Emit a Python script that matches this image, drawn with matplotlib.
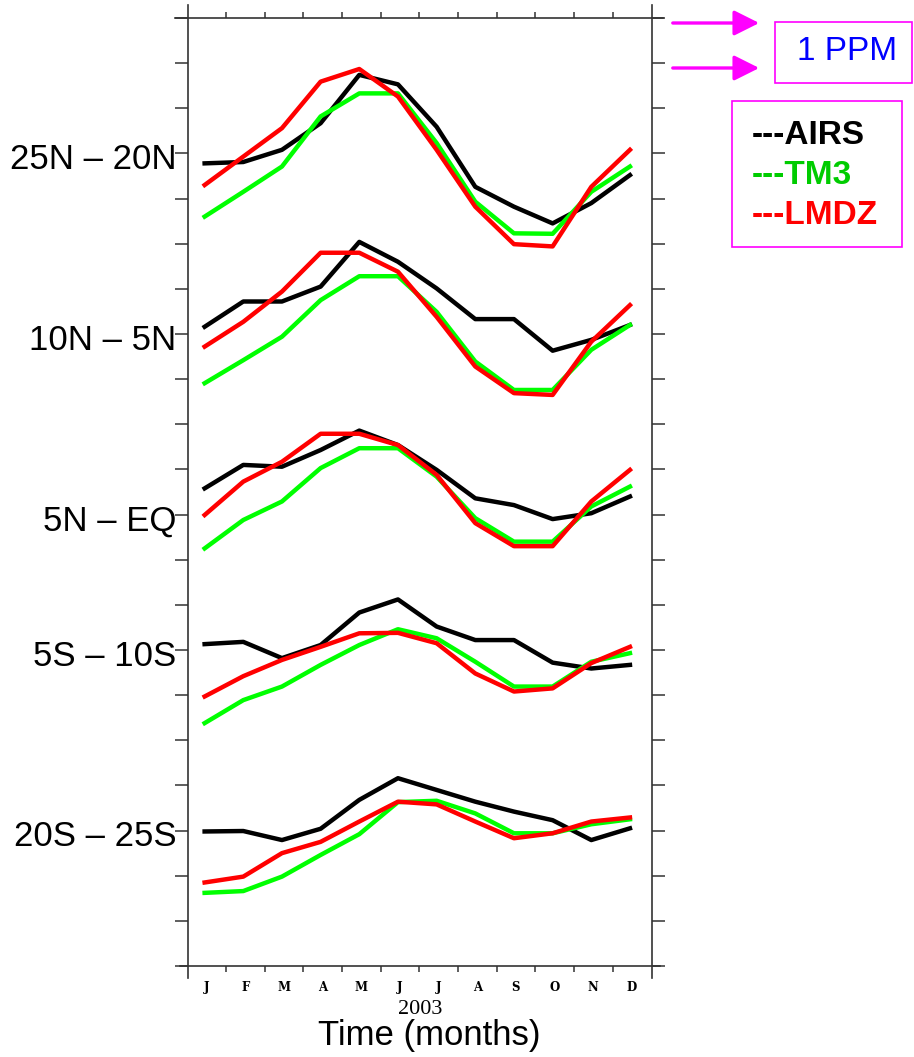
import numpy as np
import matplotlib
matplotlib.use("Agg")
import matplotlib.pyplot as plt
import matplotlib.transforms as mtransforms
from matplotlib.patches import Rectangle, FancyArrowPatch

# monthly CO2 anomalies (ppm) relative to each band's baseline
months = np.arange(1, 13)
month_labels = ["J", "F", "M", "A", "M", "J", "J", "A", "S", "O", "N", "D"]

bands = ["25N \u2013 20N", "10N \u2013 5N", "5N \u2013 EQ", "5S \u2013 10S", "20S \u2013 25S"]
offsets = [18, 14, 10, 7, 3]

airs = [
    [-0.22, -0.19, 0.08, 0.67, 1.74, 1.53, 0.59, -0.74, -1.18, -1.55, -1.10, -0.48],
    [0.16, 0.72, 0.72, 1.05, 2.04, 1.60, 1.01, 0.33, 0.33, -0.37, -0.13, 0.20],
    [0.58, 1.10, 1.06, 1.43, 1.86, 1.54, 0.99, 0.36, 0.21, -0.10, 0.03, 0.40],
    [0.13, 0.18, -0.18, 0.11, 0.83, 1.12, 0.52, 0.22, 0.22, -0.28, -0.41, -0.33],
    [-0.02, -0.01, -0.21, 0.04, 0.68, 1.16, 0.90, 0.64, 0.42, 0.23, -0.21, 0.05],
]
tm3 = [
    [-1.40, -0.85, -0.29, 0.82, 1.33, 1.33, 0.23, -1.07, -1.77, -1.78, -0.85, -0.29],
    [-1.09, -0.58, -0.06, 0.75, 1.28, 1.28, 0.49, -0.61, -1.24, -1.24, -0.35, 0.20],
    [-0.75, -0.12, 0.29, 1.03, 1.47, 1.47, 0.84, -0.08, -0.60, -0.60, 0.18, 0.62],
    [-1.62, -1.11, -0.81, -0.33, 0.11, 0.46, 0.26, -0.26, -0.81, -0.81, -0.26, -0.07],
    [-1.38, -1.34, -1.02, -0.54, -0.08, 0.63, 0.66, 0.38, -0.06, -0.06, 0.14, 0.25],
]
lmdz = [
    [-0.70, -0.07, 0.56, 1.59, 1.87, 1.26, 0.08, -1.18, -2.01, -2.06, -0.74, 0.08],
    [-0.28, 0.27, 0.94, 1.80, 1.80, 1.38, 0.38, -0.72, -1.31, -1.35, -0.17, 0.64],
    [-0.01, 0.73, 1.17, 1.79, 1.79, 1.54, 0.88, -0.19, -0.70, -0.70, 0.29, 0.99],
    [-1.03, -0.58, -0.22, 0.07, 0.37, 0.38, 0.15, -0.52, -0.92, -0.85, -0.29, 0.07],
    [-1.15, -1.02, -0.50, -0.25, 0.20, 0.64, 0.58, 0.20, -0.17, -0.06, 0.20, 0.29],
]

plt.rcParams['font.family'] = ['Liberation Sans', 'DejaVu Sans']

fig = plt.figure(figsize=(9.14, 10.57), dpi=100)
ax = fig.add_axes([188 / 914, 1 - 966 / 1057, 464 / 914, 948 / 1057])

for i in range(len(bands)):
    ax.plot(months, np.array(airs[i]) + offsets[i], color="black", lw=3.2)
    ax.plot(months, np.array(tm3[i]) + offsets[i], color="#00ff00", lw=3.2)
    ax.plot(months, np.array(lmdz[i]) + offsets[i], color="red", lw=3.2)

ax.set_xlim(0.57, 12.57)
ax.set_ylim(0, 21)

# frame drawn by hand so the lines run past the corners
for s in ax.spines.values():
    s.set_visible(False)
fc = "#333333"
ax.plot([-0.028, 1.024], [1, 1], transform=ax.transAxes, color=fc, lw=1.2, clip_on=False)
ax.plot([-0.017, 1.017], [0, 0], transform=ax.transAxes, color=fc, lw=1.2, clip_on=False)
ax.plot([0, 0], [-0.013, 1.014], transform=ax.transAxes, color=fc, lw=1.2, clip_on=False)
ax.plot([1, 1], [-0.013, 1.014], transform=ax.transAxes, color=fc, lw=1.2, clip_on=False)

ax.set_yticks(np.arange(0, 22))
ax.set_yticklabels([])
ax.set_xticks(months[:-1] + 0.55)
ax.set_xticklabels([])
ax.tick_params(axis="y", left=True, right=True, direction="out", length=9.5, width=1.1, color=fc)
ax.tick_params(axis="x", top=True, bottom=True, direction="out", length=4.5, width=1.1, color=fc)

# band names on the left
trans = mtransforms.blended_transform_factory(ax.transAxes, ax.transData)
for name, off in zip(bands, offsets):
    ax.text(-0.025, off - 0.14, name, transform=trans, ha="right", va="center", fontsize=25)

# month letters
transx = mtransforms.blended_transform_factory(ax.transData, ax.transAxes)
for m, lab in zip(months, month_labels):
    ax.text(m + 0.05, -0.0227, lab, transform=transx, ha="center", va="center",
            fontsize=8.5, fontweight="bold", family="DejaVu Serif")

fig.text(420 / 914, 1 - 1010 / 1057, "2003", ha="center", va="center",
         fontsize=16, family="Liberation Serif")
fig.text(429 / 914, 1 - 1036 / 1057, "Time (months)", ha="center", va="center", fontsize=25)

# scale annotation
mag = "#ff00ff"
for yy in [23, 68]:
    fig.patches.append(FancyArrowPatch((670 / 914, 1 - yy / 1057), (762 / 914, 1 - yy / 1057),
                                       transform=fig.transFigure, arrowstyle="-|>,head_length=1.1,head_width=0.55",
                                       mutation_scale=14, color=mag, lw=2.4))
fig.patches.append(Rectangle((775 / 914, 1 - 83 / 1057), 137 / 914, 61 / 1057,
                             transform=fig.transFigure, fill=False, edgecolor=mag, lw=1.2))
fig.text(847 / 914, 1 - 52 / 1057, "1 PPM", ha="center", va="center", fontsize=24, color="blue")

# legend
fig.patches.append(Rectangle((732 / 914, 1 - 247 / 1057), 170 / 914, 146 / 1057,
                             transform=fig.transFigure, fill=False, edgecolor=mag, lw=1.2))
for yy, lab, col in [(135, "---AIRS", "black"), (175, "---TM3", "#00cc00"), (215, "---LMDZ", "red")]:
    fig.text(752 / 914, 1 - yy / 1057, lab, ha="left", va="center", fontsize=24,
             fontweight="bold", color=col)

fig.savefig("out.png", dpi=100)
